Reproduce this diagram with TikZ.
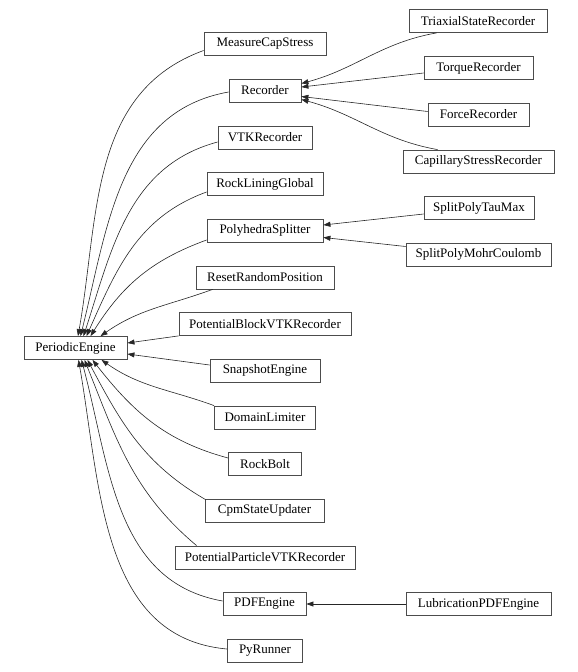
\documentclass[tikz,border=0pt]{standalone}
\usepackage{fontspec}
\setmainfont{Liberation Serif}
\usetikzlibrary{arrows.meta}
\tikzset{
  cls/.style={draw=black!70,line width=0.8pt,minimum height=23pt,inner sep=0pt,
    font=\fontsize{13}{15}\selectfont},
  inh/.style={draw=black!85,line width=0.6pt,-{Triangle[length=7pt,width=5pt]}}
}

\begin{document}
\begin{tikzpicture}[x=1pt,y=1pt]
  \useasboundingbox (0,0) rectangle (578,-672);
  % base class
  \node[cls,minimum width=103pt] (pe) at (75.5,-348) {PeriodicEngine};
  % direct children
  \node[cls,minimum width=122pt] (mcs) at (265,-43.5) {MeasureCapStress};
  \node[cls,minimum width=72pt] (rec) at (265,-90.5) {Recorder};
  \node[cls,minimum width=94pt] (vtk) at (265,-137.5) {VTKRecorder};
  \node[cls,minimum width=116pt] (rlg) at (265,-184) {RockLiningGlobal};
  \node[cls,minimum width=116pt] (phs) at (265,-230.5) {PolyhedraSplitter};
  \node[cls,minimum width=138pt] (rrp) at (265,-277.5) {ResetRandomPosition};
  \node[cls,minimum width=172pt] (pbv) at (265,-324) {PotentialBlockVTKRecorder};
  \node[cls,minimum width=110pt] (sne) at (265,-370.5) {SnapshotEngine};
  \node[cls,minimum width=101pt] (dlm) at (265,-417.5) {DomainLimiter};
  \node[cls,minimum width=73pt] (rbt) at (265,-464) {RockBolt};
  \node[cls,minimum width=119pt] (csu) at (264.5,-510.5) {CpmStateUpdater};
  \node[cls,minimum width=180pt] (ppv) at (265,-557.5) {PotentialParticleVTKRecorder};
  \node[cls,minimum width=83pt] (pdf) at (264.5,-604) {PDFEngine};
  \node[cls,minimum width=75pt] (pyr) at (265,-650.5) {PyRunner};
  % second level
  \node[cls,minimum width=138pt] (tsr) at (478,-21) {TriaxialStateRecorder};
  \node[cls,minimum width=109pt] (tqr) at (478.5,-68) {TorqueRecorder};
  \node[cls,minimum width=101pt] (frc) at (478.5,-114.5) {ForceRecorder};
  \node[cls,minimum width=151pt] (csr) at (478.5,-161.5) {CapillaryStressRecorder};
  \node[cls,minimum width=110pt] (spt) at (479,-208) {SplitPolyTauMax};
  \node[cls,minimum width=145pt] (spm) at (478.5,-254.5) {SplitPolyMohrCoulomb};
  \node[cls,minimum width=145pt] (lub) at (478.5,-604) {LubricationPDFEngine};

  % edges into PeriodicEngine
  \draw[inh] ([yshift=-7pt]mcs.west) to[out=200,in=80] ([xshift=2.5pt]pe.north);
  \draw[inh] ([yshift=-1.5pt]rec.west) to[out=190,in=76] ([xshift=5pt]pe.north);
  \draw[inh] ([yshift=-4.5pt]vtk.west) to[out=195,in=72] ([xshift=8pt]pe.north);
  \draw[inh] ([yshift=-8pt]rlg.west) to[out=200,in=66] ([xshift=11pt]pe.north);
  \draw[inh] ([yshift=-9.5pt]phs.west) to[out=200,in=58] ([xshift=15pt]pe.north);
  \draw[inh] ([xshift=17pt]rrp.south west) to[out=200,in=35] ([xshift=25pt]pe.north);
  \draw[inh] (pbv.south west) -- ([yshift=5pt]pe.east);
  \draw[inh] ([yshift=5.5pt]sne.west) -- ([yshift=-6pt]pe.east);
  \draw[inh] (dlm.north west) to[out=160,in=-35] ([xshift=26pt]pe.south);
  \draw[inh] ([yshift=6pt]rbt.west) to[out=165,in=-52] ([xshift=17pt]pe.south);
  \draw[inh] ([xshift=1pt,yshift=-1pt]csu.north west) to[out=150,in=-62] ([xshift=12pt]pe.south);
  \draw[inh] ([xshift=22pt]ppv.north west) to[out=140,in=-68] ([xshift=9pt]pe.south);
  \draw[inh] ([yshift=3pt]pdf.west) to[out=170,in=-75] ([xshift=6pt]pe.south);
  \draw[inh] ([yshift=1.5pt]pyr.west) to[out=175,in=-80] ([xshift=3pt]pe.south);

  % edges into Recorder, PolyhedraSplitter, PDFEngine
  \draw[inh] ([xshift=28pt]tsr.south west) to[out=190,in=15] ([yshift=7pt]rec.east);
  \draw[inh] ([yshift=-5pt]tqr.west) -- ([yshift=3.5pt]rec.east);
  \draw[inh] ([yshift=3pt]frc.west) -- ([yshift=-6pt]rec.east);
  \draw[inh] ([xshift=35pt]csr.north west) to[out=170,in=-15] ([yshift=-9pt]rec.east);
  \draw[inh] ([yshift=-6pt]spt.west) -- ([yshift=5.5pt]phs.east);
  \draw[inh] ([yshift=8pt]spm.west) -- ([yshift=-7pt]phs.east);
  \draw[inh] (lub.west) -- (pdf.east);
\end{tikzpicture}
\end{document}
